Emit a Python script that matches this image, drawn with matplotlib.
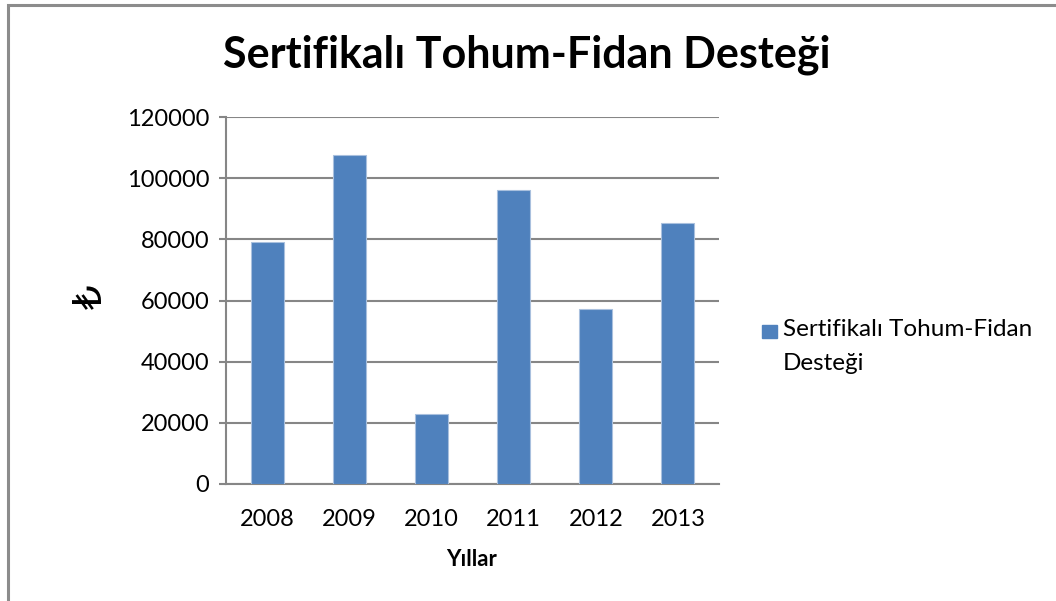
"""Sertifikali tohum-fidan destegi bar chart, Excel-style."""
import matplotlib
matplotlib.use("Agg")
import matplotlib.pyplot as plt
import matplotlib.patches as mpatches

years = ["2008", "2009", "2010", "2011", "2012", "2013"]
support = [79200, 107700, 23000, 96100, 57100, 85200]
yticks = [0, 20000, 40000, 60000, 80000, 100000, 120000]

series_lines = ["Sertifikalı Tohum-Fidan", "Desteği"]
bar_color = "#4F81BD"
grid_color = "#868686"

plt.rcParams["font.family"] = ["Lato", "DejaVu Sans"]

W, H = 1056, 601
fig = plt.figure(figsize=(W / 100, H / 100), dpi=100)
fig.patch.set_facecolor("white")

# outer chart border (only top/left visible in the crop)
fig.patches.append(mpatches.Rectangle((8 / W, -0.1), 1.2, 1 - 5 / H + 0.1,
                                      transform=fig.transFigure, fill=False,
                                      edgecolor="#8c8c8c", linewidth=2.2))

ax = fig.add_axes([226 / W, 117 / H, 493 / W, 367 / H])
x = range(len(years))
ax.bar(x, support, width=0.4, color=bar_color, edgecolor="#a9c0de", linewidth=0.8,
       zorder=3)

ax.set_xlim(-0.5, len(years) - 0.5)
ax.set_ylim(0, 120000)
ax.set_yticks(yticks)
ax.set_yticklabels([str(v) for v in yticks], fontsize=17)
ax.set_xticks(list(x))
ax.set_xticklabels(years, fontsize=17)
ax.tick_params(axis="x", length=0, pad=18)
ax.tick_params(axis="y", length=5, width=1.5, color=grid_color, pad=7)

ax.yaxis.grid(True, color=grid_color, linewidth=1.5, zorder=0)
for s in ["top", "right"]:
    ax.spines[s].set_visible(False)
for s in ["left", "bottom"]:
    ax.spines[s].set_color(grid_color)
    ax.spines[s].set_linewidth(1.5)

fig.text(472 / W, 1 - 560 / H, "Yıllar", fontsize=16, fontweight="bold",
         ha="center", va="center")
fig.text(91 / W, 1 - 297 / H, "₺", rotation=90, fontsize=28,
         ha="center", va="center", family=["DejaVu Sans"])

fig.text(527 / W, 1 - 55 / H, "Sertifikalı Tohum-Fidan Desteği",
         fontsize=31, fontweight="bold", ha="center", va="center")

# legend, Excel style: marker next to first line, label wraps onto a second line
fig.patches.append(mpatches.Rectangle((762 / W, 1 - 338 / H), 15 / W, 13 / H,
                                      transform=fig.transFigure, color=bar_color))
fig.text(783 / W, 1 - 330 / H, series_lines[0], fontsize=17.5, ha="left", va="center")
fig.text(783 / W, 1 - 363 / H, series_lines[1], fontsize=17.5, ha="left", va="center")

fig.savefig("out.png", dpi=100)
